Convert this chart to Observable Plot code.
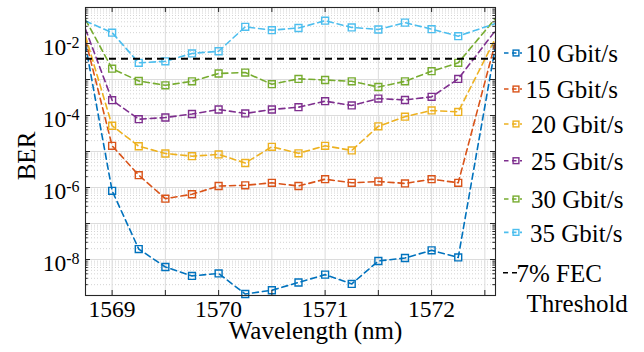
<!DOCTYPE html>
<html><head><meta charset="utf-8">
<script src="https://cdn.jsdelivr.net/npm/d3@7"></script>
<script src="https://cdn.jsdelivr.net/npm/@observablehq/plot@0.6"></script>
<style>
html,body{margin:0;padding:0;background:#fff;}
#chart{position:relative;width:644px;height:352px;overflow:hidden;background:#fff;}
#chart svg{position:absolute;left:0;top:0;}
</style></head><body><div id="chart"></div>
<script>
// ---- data ----
const wavelength = [1568.75, 1569, 1569.25, 1569.5, 1569.75, 1570, 1570.25, 1570.5, 1570.75, 1571, 1571.25, 1571.5, 1571.75, 1572, 1572.25, 1572.6];
const ber10 = [9e-3, 8.1e-7, 1.95e-8, 6.2e-9, 3.5e-9, 4.1e-9, 1.1e-9, 1.4e-9, 2.3e-9, 3.8e-9, 2.1e-9, 9.1e-9, 1.1e-8, 1.8e-8, 1.14e-8, 8.5e-3];
const ber15 = [1.25e-2, 1.44e-5, 2.2e-6, 4.9e-7, 6.5e-7, 1.1e-6, 1.15e-6, 1.35e-6, 1.1e-6, 1.7e-6, 1.35e-6, 1.47e-6, 1.3e-6, 1.7e-6, 1.35e-6, 1.1e-2];
const ber20 = [1.6e-2, 5.2e-5, 1.4e-5, 8.8e-6, 7.4e-6, 8.3e-6, 4.8e-6, 1.35e-5, 8.9e-6, 1.44e-5, 1.07e-5, 5e-5, 9.3e-5, 1.38e-4, 1.26e-4, 1.4e-2];
const ber25 = [2.5e-2, 2.66e-4, 7.9e-5, 8.8e-5, 1.1e-4, 1.47e-4, 1.14e-4, 1.47e-4, 1.7e-4, 2.5e-4, 1.9e-4, 2.95e-4, 2.7e-4, 3.3e-4, 1.04e-3, 2.3e-2];
const ber30 = [4.6e-2, 2.0e-3, 9.1e-4, 6.9e-4, 8.9e-4, 1.47e-3, 1.56e-3, 7.4e-4, 1.04e-3, 9.7e-4, 8.9e-4, 6.2e-4, 8.9e-4, 1.7e-3, 2.9e-3, 5.0e-2];
const ber35 = [4.2e-2, 2.0e-2, 2.9e-3, 3.2e-3, 5.3e-3, 6.1e-3, 2.9e-2, 2.35e-2, 2.7e-2, 4.3e-2, 2.8e-2, 2.45e-2, 3.8e-2, 2.5e-2, 1.6e-2, 3.6e-2];
const seriesNames = ["10 Gbit/s", "15 Gbit/s", "20 Gbit/s", "25 Gbit/s", "30 Gbit/s", "35 Gbit/s"];
const seriesColors = ["#0072BD", "#D95319", "#EDB120", "#7E2F8E", "#77AC30", "#4DBEEE"];
const fecThreshold = 3.8e-3;
const fecLabel = ["7% FEC", "Threshold"];
const xTickValues = [1569, 1570, 1571, 1572];
const yTickValues = [1e-8, 1e-6, 1e-4, 1e-2];
const xLabel = "Wavelength (nm)";
const yLabel = "BER";

// ---- build ----
const berSeries = [ber10, ber15, ber20, ber25, ber30, ber35];
const rows = berSeries.flatMap((vals, s) => vals.map((v, i) => ({
  series: seriesNames[s], x: wavelength[i], y: v, edge: i === 0 || i === vals.length - 1
})));

const W = 644, H = 352, mL = 85, mR = 149, mT = 7, mB = 57;
const innerH = H - mT - mB, innerW = W - mL - mR;
const FONT = "'Liberation Serif', 'Times New Roman', serif";

const decades = d3.range(-9, 0).map(e => Math.pow(10, e));
const minors = [];
for (let e = -9; e <= -2; e++) for (let k = 2; k <= 9; k++) minors.push(k * Math.pow(10, e));
const xGrid = d3.range(1569, 1572.51, 0.5);
const axisColor = "#262626";

const plot = Plot.plot({
  width: W, height: H,
  marginLeft: mL, marginRight: mR, marginTop: mT, marginBottom: mB,
  x: {domain: [1568.75, 1572.6]},
  y: {type: "log", domain: [1e-9, 1e-1]},
  color: {domain: seriesNames, range: seriesColors},
  style: {background: "transparent", fontFamily: FONT, color: "#000", overflow: "visible"},
  marks: [
    Plot.ruleY(minors, {stroke: "#c8c8c8", strokeDasharray: "1,2", strokeWidth: 0.8}),
    Plot.ruleY(decades, {stroke: "#dcdcdc"}),
    Plot.ruleX(xGrid, {stroke: "#dcdcdc"}),
    Plot.line(rows, {x: "x", y: "y", z: "series", stroke: "series", strokeWidth: 1.6, strokeDasharray: "6,4", clip: true}),
    Plot.dot(rows.filter(d => !d.edge), {x: "x", y: "y", stroke: "series", symbol: "square", r: 3.9, strokeWidth: 1.4, fill: "none"}),
    Plot.ruleY([fecThreshold], {stroke: "#000", strokeWidth: 2, strokeDasharray: "7,5"}),
    // inward ticks
    Plot.ruleX(xGrid, {insetTop: innerH - 5, stroke: axisColor}),
    Plot.ruleX(xGrid, {insetBottom: innerH - 5, stroke: axisColor}),
    Plot.ruleY(decades, {insetRight: innerW - 5, stroke: axisColor}),
    Plot.ruleY(decades, {insetLeft: innerW - 5, stroke: axisColor}),
    Plot.ruleY(minors, {insetRight: innerW - 2.7, stroke: axisColor}),
    Plot.ruleY(minors, {insetLeft: innerW - 2.7, stroke: axisColor}),
    Plot.frame({stroke: axisColor, strokeWidth: 1.1}),
    Plot.axisX({ticks: xTickValues, tickFormat: d => String(d), tickSize: 0, tickPadding: 5, fontSize: 23.5, label: null}),
    Plot.axisY({ticks: yTickValues, tickFormat: d => String(Math.round(Math.log10(d))), tickSize: 0, tickPadding: 6, fontSize: 23.5, dy: 4, label: null})
  ]
});

const NS = "http://www.w3.org/2000/svg";
plot.querySelectorAll('g[aria-label="y-axis tick label"] text').forEach(t => {
  const exp = t.textContent;
  t.textContent = "";
  const a = document.createElementNS(NS, "tspan"); a.textContent = "10";
  const b = document.createElementNS(NS, "tspan"); b.textContent = exp;
  b.setAttribute("dy", "-0.42em"); b.setAttribute("font-size", "16");
  t.append(a, b);
});

const chart = document.getElementById("chart");
chart.appendChild(plot);

// ---- overlay: axis labels and legend ----
const ov = d3.select(chart).append("svg").attr("width", W).attr("height", H)
  .style("font-family", FONT);
ov.append("text").attr("x", 315.5).attr("y", 339).attr("text-anchor", "middle")
  .attr("font-size", 25).attr("fill", "#000").text(xLabel);
ov.append("text").attr("transform", "translate(35,156) rotate(-90)").attr("text-anchor", "middle")
  .attr("font-size", 25).attr("fill", "#000").text(yLabel);

const legendBaselines = [62.3, 98.3, 133.3, 170, 208.3, 241.7];
const legendTextX = [525.5, 525.5, 531, 531, 531, 530];
seriesNames.forEach((name, i) => {
  const g = ov.append("g");
  const sy = legendBaselines[i] - 9.3;
  g.append("line").attr("x1", 504).attr("x2", 522).attr("y1", sy).attr("y2", sy)
    .attr("stroke", seriesColors[i]).attr("stroke-width", 1.6).attr("stroke-dasharray", "4.5,3.5");
  g.append("rect").attr("x", 516 - 2.9).attr("y", sy - 2.9).attr("width", 5.8).attr("height", 5.8)
    .attr("fill", "none").attr("stroke", seriesColors[i]).attr("stroke-width", 1.4);
  g.append("text").attr("x", legendTextX[i]).attr("y", legendBaselines[i])
    .attr("font-size", 25).attr("fill", "#000").text(name);
});
ov.append("line").attr("x1", 503).attr("x2", 517).attr("y1", 272.7).attr("y2", 272.7)
  .attr("stroke", "#000").attr("stroke-width", 1.6).attr("stroke-dasharray", "5,4");
ov.append("text").attr("x", 516.5).attr("y", 281.5).attr("font-size", 25).attr("fill", "#000").text(fecLabel[0]);
ov.append("text").attr("x", 526.5).attr("y", 311.5).attr("font-size", 25).attr("fill", "#000").text(fecLabel[1]);
</script></body></html>
